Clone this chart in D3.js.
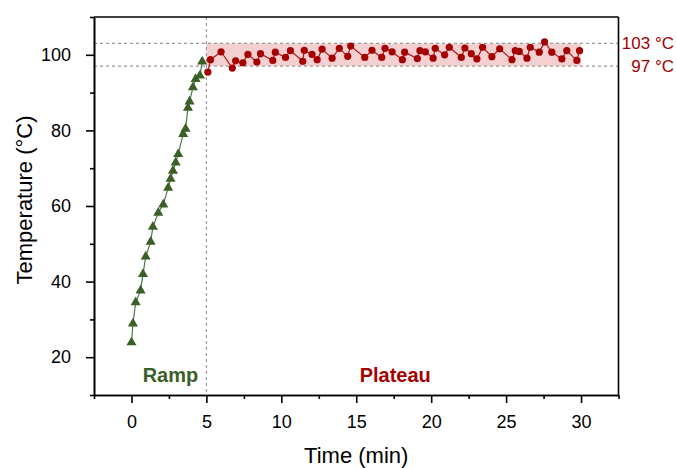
<!DOCTYPE html>
<html>
<head>
<meta charset="utf-8">
<script src="https://cdn.jsdelivr.net/npm/d3@7"></script>
<style>
  body { margin: 0; background: #fff; }
  text { font-family: "Liberation Sans", Arial, sans-serif; }
</style>
</head>
<body>
<div class="graph"></div>
<script>
// data
let rampTime = [0, 0.1, 0.28, 0.61, 0.77, 0.95, 1.28, 1.43, 1.79, 2.12, 2.45, 2.61, 2.77, 2.95, 3.12, 3.45, 3.61, 3.77, 3.88, 4.1, 4.28, 4.57, 4.72];
let rampTemp = [23.9, 28.9, 34.5, 37.6, 42.0, 46.6, 50.5, 54.5, 58.2, 60.4, 64.8, 67.2, 69.3, 71.5, 73.7, 79.0, 80.4, 86.0, 87.6, 91.4, 93.6, 94.5, 98.2];

let plateauTime = [5.1, 5.27, 5.98, 6.73, 6.95, 7.43, 7.77, 8.37, 8.61, 9.43, 9.6, 10.28, 10.61, 11.43, 11.53, 12.05, 12.39, 12.72, 13.39, 13.87,
  14.43, 14.63, 15.57, 16.05, 16.7, 16.92, 17.39, 18.08, 18.23, 19.08, 19.25, 19.61, 20.13, 20.27, 20.9, 21.21, 22.01, 22.25, 22.68, 23.05,
  23.43, 24.05, 24.57, 25.39, 25.61, 25.88, 26.39, 26.61, 27.21, 27.57, 28.05, 28.72, 29.05, 29.72, 29.9];
let plateauTemp = [95.4, 98.7, 100.8, 96.5, 98.4, 97.9, 100.1, 98.1, 100.3, 98.5, 100.7, 99.3, 101.1, 98.3, 101.2, 100.1, 98.7, 101.5, 99.1, 101.7,
  99.6, 102.3, 99.3, 101.2, 99.3, 101.7, 100.8, 98.7, 100.7, 99.0, 101.1, 100.8, 99.1, 101.7, 100.0, 102.0, 99.3, 101.8, 100.3, 98.9,
  102.0, 99.5, 101.6, 98.7, 101.1, 100.9, 99.1, 102.0, 100.7, 103.4, 100.7, 98.9, 101.1, 98.5, 101.1];

let xMajor = [0, 5, 10, 15, 20, 25, 30];
let xMinor = [-2.5, 2.5, 7.5, 12.5, 17.5, 22.5, 27.5, 32.5];
let yMajor = [20, 40, 60, 80, 100];
let yMinor = [10, 30, 50, 70, 90, 110];

let bandLow = 97, bandHigh = 103, switchTime = 5, plateauEnd = 30;

let w = 676, h = 468;
let green = '#3a5f27';
let red = '#a50000';

let x = d3.scaleLinear().domain([-2.5, 32.5]).range([94, 618.5]);
let y = d3.scaleLinear().domain([10, 110]).range([395, 17]);

let svg = d3.select('.graph')
    .append('svg')
    .attr('width', w)
    .attr('height', h);

// shaded band
svg.append('rect')
    .attr('x', x(switchTime))
    .attr('y', y(bandHigh))
    .attr('width', x(plateauEnd) - x(switchTime))
    .attr('height', y(bandLow) - y(bandHigh))
    .style('fill', '#f5d0d1');

// dashed guides
[bandLow, bandHigh].forEach(v => {
    svg.append('line')
        .attr('x1', x(-2.5)).attr('x2', x(32.5))
        .attr('y1', y(v)).attr('y2', y(v))
        .style('stroke', '#999').style('stroke-width', 1.2)
        .style('stroke-dasharray', '3,3');
});
svg.append('line')
    .attr('x1', x(switchTime)).attr('x2', x(switchTime))
    .attr('y1', y(110)).attr('y2', y(10))
    .style('stroke', '#999').style('stroke-width', 1.2)
    .style('stroke-dasharray', '3,3');

let line = d3.line().x(d => x(d[0])).y(d => y(d[1]));

let ramp = rampTime.map((t, i) => [t, rampTemp[i]]);
let plateau = plateauTime.map((t, i) => [t, plateauTemp[i]]);

svg.append('path')
    .datum(ramp)
    .attr('d', line)
    .style('fill', 'none')
    .style('stroke', '#4d7a45')
    .style('stroke-width', 1.2);

svg.append('path')
    .datum(plateau)
    .attr('d', line)
    .style('fill', 'none')
    .style('stroke', '#b01515')
    .style('stroke-width', 1.2);

let tri = d3.symbol().type(d3.symbolTriangle).size(44);
svg.selectAll('.tri')
    .data(ramp)
    .enter()
    .append('path')
    .attr('class', 'tri')
    .attr('d', tri)
    .attr('transform', d => 'translate(' + x(d[0]) + ',' + y(d[1]) + ')')
    .style('fill', green);

svg.selectAll('.dot')
    .data(plateau)
    .enter()
    .append('circle')
    .attr('class', 'dot')
    .attr('cx', d => x(d[0]))
    .attr('cy', d => y(d[1]))
    .attr('r', 3.6)
    .style('fill', red);

// axes
let xAxis = d3.axisBottom(x).tickValues(xMajor).tickSize(8).tickSizeOuter(0).tickPadding(12);
let xAxisMinor = d3.axisBottom(x).tickValues(xMinor).tickSize(4).tickSizeOuter(0).tickFormat('');
let yAxis = d3.axisLeft(y).tickValues(yMajor).tickSize(8).tickSizeOuter(0).tickPadding(15);
let yAxisMinor = d3.axisLeft(y).tickValues(yMinor).tickSize(4).tickSizeOuter(0).tickFormat('');

function styleAxis(g) {
    g.selectAll('path, line').style('stroke', '#000').style('stroke-width', 1.6);
    g.selectAll('text').style('font-size', '18px').style('fill', '#000')
        .style('font-family', '"Liberation Sans", Arial, sans-serif');
}

svg.append('g').attr('transform', 'translate(0,395)').call(xAxisMinor).call(styleAxis);
svg.append('g').attr('transform', 'translate(0,395)').call(xAxis).call(styleAxis);
svg.append('g').attr('transform', 'translate(94,0)').call(yAxisMinor).call(styleAxis);
svg.append('g').attr('transform', 'translate(94,0)').call(yAxis).call(styleAxis);

// box top & right
svg.append('line').attr('x1', 94).attr('x2', 618.5).attr('y1', 17).attr('y2', 17)
    .style('stroke', '#000').style('stroke-width', 1.6);
svg.append('line').attr('x1', 618.5).attr('x2', 618.5).attr('y1', 17).attr('y2', 395)
    .style('stroke', '#000').style('stroke-width', 1.6);

// titles
svg.append('text')
    .attr('x', x(15)).attr('y', 463)
    .attr('text-anchor', 'middle')
    .style('font-size', '22px')
    .text('Time (min)');

svg.append('text')
    .attr('transform', 'translate(32,' + (y(60) - 6) + ') rotate(-90)')
    .attr('text-anchor', 'middle')
    .style('font-size', '22px')
    .text('Temperature (°C)');

// region labels
svg.append('text')
    .attr('x', x(2.6)).attr('y', 382)
    .attr('text-anchor', 'middle')
    .style('font-size', '20px').style('font-weight', 'bold')
    .style('fill', green)
    .text('Ramp');

svg.append('text')
    .attr('x', x(17.6)).attr('y', 382)
    .attr('text-anchor', 'middle')
    .style('font-size', '20px').style('font-weight', 'bold')
    .style('fill', red)
    .text('Plateau');

// band labels
svg.append('text')
    .attr('x', 674).attr('y', y(bandHigh) + 6)
    .attr('text-anchor', 'end')
    .style('font-size', '17px').style('fill', red)
    .text(bandHigh + ' °C');

svg.append('text')
    .attr('x', 674).attr('y', y(bandLow) + 6)
    .attr('text-anchor', 'end')
    .style('font-size', '17px').style('fill', red)
    .text(bandLow + ' °C');
</script>
</body>
</html>
